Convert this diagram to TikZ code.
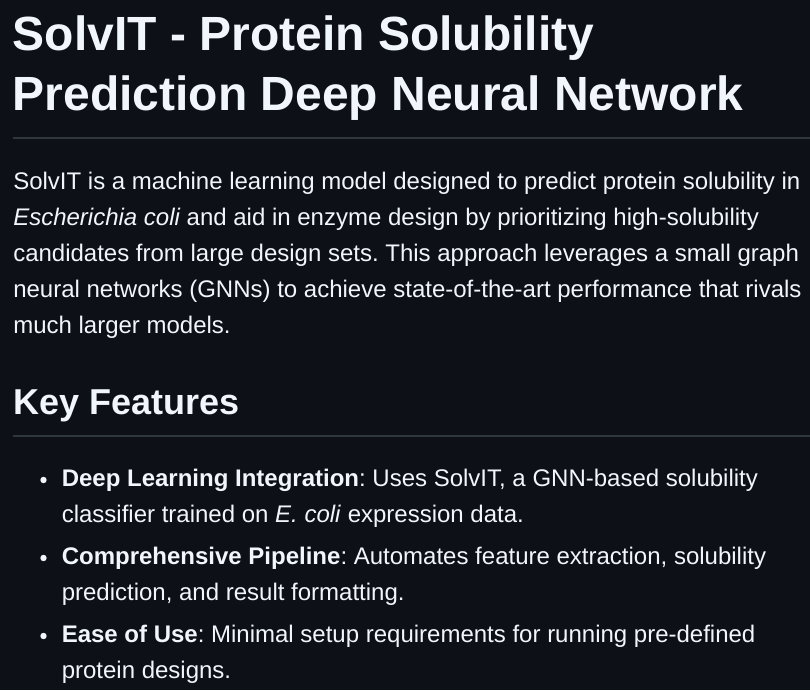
\documentclass[tikz,border=0pt]{standalone}
\usepackage{fontspec}
\setmainfont{Liberation Sans}
\frenchspacing
\definecolor{bgc}{HTML}{0D1117}
\definecolor{fgc}{HTML}{F0F6FC}
\definecolor{rulec}{HTML}{30363D}
\begin{document}
\begin{tikzpicture}[x=0.75pt,y=-0.75pt,
  title/.style={anchor=base west,inner sep=0pt,text=fgc,font=\fontsize{36pt}{45pt}\selectfont\bfseries\frenchspacing},
  htwo/.style={anchor=base west,inner sep=0pt,text=fgc,font=\fontsize{27pt}{34pt}\selectfont\bfseries\frenchspacing},
  body/.style={anchor=base west,inner sep=0pt,text=fgc,font=\fontsize{18pt}{27pt}\selectfont\frenchspacing},
  hrule/.style={draw=rulec,line width=1.1pt},
  bulletdot/.style={circle,fill=fgc,inner sep=0pt,minimum size=4.8pt}]
\fill[bgc] (0,0) rectangle (810,690);
\useasboundingbox (0,0) rectangle (810,690);
% title
\node[title] (t1) at (12.5,50) {SolvIT - Protein Solubility};
\node[title] (t2) at (12.5,110) {Prediction Deep Neural Network};
\coordinate (r1a) at (13,138);
\coordinate (r1b) at (810,138);
\draw[hrule] (r1a) -- (r1b);
% paragraph
\node[body] (p1) at (13,189) {SolvIT is a machine learning model designed to predict protein solubility in};
\node[body] (p2) at (13,225) {\itshape Escherichia coli\upshape{} and aid in enzyme design by prioritizing high-solubility};
\node[body] (p3) at (13,261) {candidates from large design sets. This approach leverages a small graph};
\node[body] (p4) at (13,297) {neural networks (GNNs) to achieve state-of-the-art performance that rivals};
\node[body] (p5) at (13,333) {much larger models.};
% heading 2
\node[htwo] (h2) at (13,414) {Key Features};
\coordinate (r2a) at (13,436);
\coordinate (r2b) at (810,436);
\draw[hrule] (r2a) -- (r2b);
% bullets
\node[bulletdot] (b1) at (43.5,480) {};
\node[body] (l1a) at (61.5,486) {\textbf{Deep Learning Integration}: Uses SolvIT, a GNN-based solubility};
\node[body] (l1b) at (61.5,522) {classifier trained on \textit{E. coli} expression data.};
\node[bulletdot] (b2) at (43.5,558) {};
\node[body] (l2a) at (61.5,564) {\textbf{Comprehensive Pipeline}: Automates feature extraction, solubility};
\node[body] (l2b) at (61.5,600) {prediction, and result formatting.};
\node[bulletdot] (b3) at (43.5,636) {};
\node[body] (l3a) at (61.5,642) {\textbf{Ease of Use}: Minimal setup requirements for running pre-defined};
\node[body] (l3b) at (61.5,678) {protein designs.};
\end{tikzpicture}
\end{document}
